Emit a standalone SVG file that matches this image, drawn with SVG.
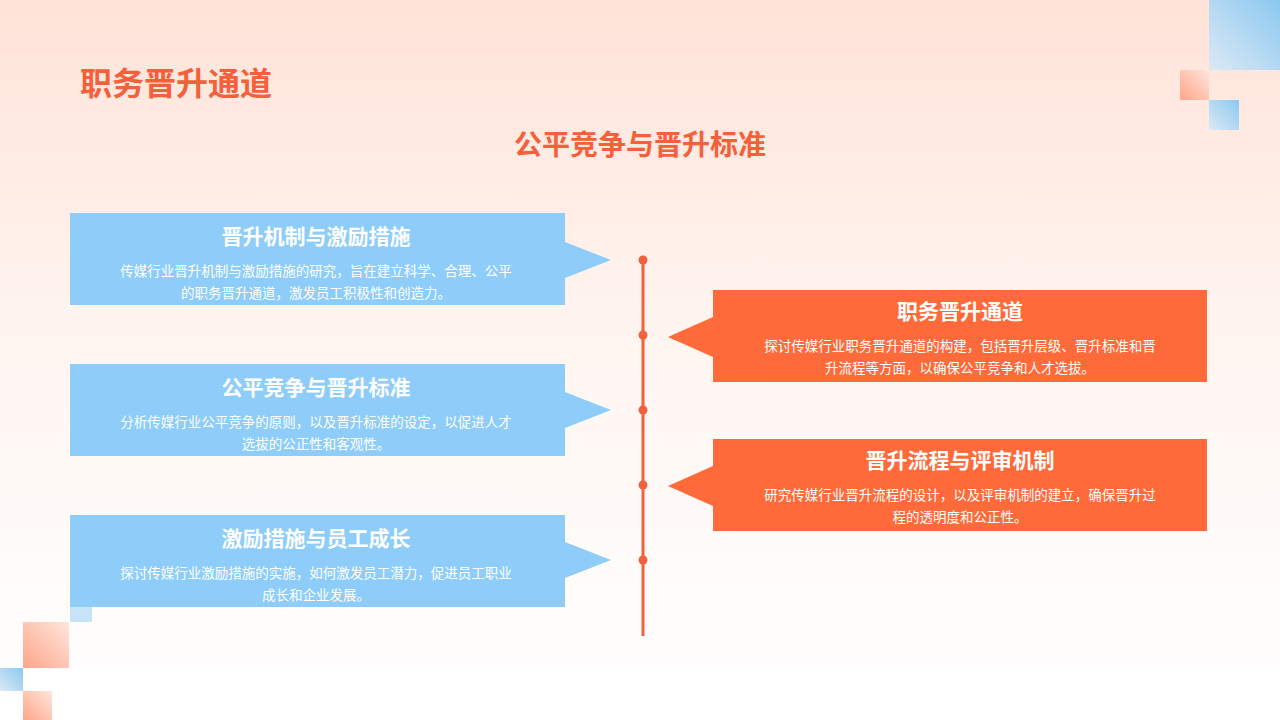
<svg xmlns="http://www.w3.org/2000/svg" width="1280" height="720" viewBox="0 0 1280 720">
<defs>
<linearGradient id="bg" x1="0" y1="0" x2="0" y2="1"><stop offset="0" stop-color="#ffe3d8"/><stop offset="0.5" stop-color="#fff6f2"/><stop offset="1" stop-color="#ffffff"/></linearGradient>
<linearGradient id="o" x1="1" y1="0" x2="0" y2="1"><stop offset="0" stop-color="#ffe6dc"/><stop offset="1" stop-color="#ffa58a"/></linearGradient>
<linearGradient id="b" x1="1" y1="0" x2="0" y2="1"><stop offset="0" stop-color="#8cc8f0"/><stop offset="1" stop-color="#dce9f5"/></linearGradient>
<style>
.bl{fill:#8ecdf9}.or{fill:#fe6a3a}
.h{font-family:"Noto Sans CJK SC",sans-serif;font-weight:bold;font-size:21px;fill:#fff;text-anchor:middle}
.t{font-family:"Noto Sans CJK SC",sans-serif;font-size:13.5px;fill:#fff;text-anchor:middle}
</style>
</defs>
<rect width="1280" height="720" fill="url(#bg)"/>
<rect x="1209" y="0" width="71" height="70" fill="url(#b)"/>
<rect x="1180" y="70" width="29" height="30" fill="url(#o)"/>
<rect x="1209" y="100" width="30" height="30" fill="url(#b)"/>
<rect x="70" y="600" width="22" height="22" fill="#b8dcf8" opacity="0.8"/>
<rect x="23" y="622" width="46" height="46" fill="url(#o)"/>
<rect x="0" y="668" width="23" height="23" fill="url(#b)"/>
<rect x="23" y="691" width="29" height="29" fill="url(#o)"/>
<text x="80" y="95" font-family="Noto Sans CJK SC,sans-serif" font-weight="bold" font-size="32" fill="#f5603a">职务晋升通道</text>
<text x="640" y="155" font-family="Noto Sans CJK SC,sans-serif" font-weight="bold" font-size="28" fill="#f5603a" text-anchor="middle">公平竞争与晋升标准</text>
<g id="connectors" fill="#f0623e">
<rect x="641.5" y="260" width="3" height="376"/>
<circle cx="643" cy="260" r="4.5"/><circle cx="643" cy="335" r="4.5"/><circle cx="643" cy="410" r="4.5"/><circle cx="643" cy="485" r="4.5"/><circle cx="643" cy="560" r="4.5"/>
</g>
<g id="n1"><rect class="bl" x="70" y="213" width="495" height="92"/><polygon class="bl" points="565,242 611,260 565,278"/>
<text class="h" x="316" y="244">晋升机制与激励措施</text>
<text class="t" x="316" y="276">传媒行业晋升机制与激励措施的研究，旨在建立科学、合理、公平</text>
<text class="t" x="316" y="298">的职务晋升通道，激发员工积极性和创造力。</text></g>
<g id="n2"><rect class="bl" x="70" y="364" width="495" height="92"/><polygon class="bl" points="565,392 611,410 565,428"/>
<text class="h" x="316" y="395">公平竞争与晋升标准</text>
<text class="t" x="316" y="427">分析传媒行业公平竞争的原则，以及晋升标准的设定，以促进人才</text>
<text class="t" x="316" y="449">选拔的公正性和客观性。</text></g>
<g id="n3"><rect class="bl" x="70" y="515" width="495" height="92"/><polygon class="bl" points="565,542 611,560 565,578"/>
<text class="h" x="316" y="546">激励措施与员工成长</text>
<text class="t" x="316" y="578">探讨传媒行业激励措施的实施，如何激发员工潜力，促进员工职业</text>
<text class="t" x="316" y="600">成长和企业发展。</text></g>
<g id="n4"><rect class="or" x="713" y="290" width="494" height="92"/><polygon class="or" points="713,317 668,337 713,357"/>
<text class="h" x="960" y="319">职务晋升通道</text>
<text class="t" x="960" y="351">探讨传媒行业职务晋升通道的构建，包括晋升层级、晋升标准和晋</text>
<text class="t" x="960" y="373">升流程等方面，以确保公平竞争和人才选拔。</text></g>
<g id="n5"><rect class="or" x="713" y="439" width="494" height="92"/><polygon class="or" points="713,466 668,486 713,506"/>
<text class="h" x="960" y="468">晋升流程与评审机制</text>
<text class="t" x="960" y="500">研究传媒行业晋升流程的设计，以及评审机制的建立，确保晋升过</text>
<text class="t" x="960" y="522">程的透明度和公正性。</text></g>
</svg>
